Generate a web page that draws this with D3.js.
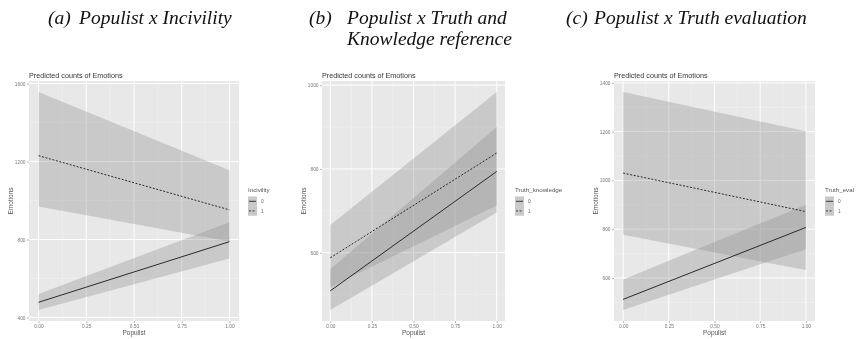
<!DOCTYPE html>
<html>
<head>
<meta charset="utf-8">
<script src="https://cdn.jsdelivr.net/npm/d3@7"></script>
<style>
  body { margin: 0; background: #fff; }
  svg { display: block; will-change: transform; }
  .caption { font-family: 'Liberation Serif', 'Times New Roman', serif; font-style: italic; font-size: 19.5px; fill: #111; }
  .gg { font-family: 'Liberation Sans', Arial, sans-serif; }
</style>
</head>
<body>
<div id="chart"></div>
<script>
// x values (Populist) and tick labels
const populist = [0, 1];
const xTicks = [0, 0.25, 0.5, 0.75, 1];

// (a) Populist x Incivility
const incivility0Fit = [478, 789];
const incivility0Lower = [438, 702];
const incivility0Upper = [520, 889];
const incivility1Fit = [1230, 952];
const incivility1Lower = [969, 790];
const incivility1Upper = [1557, 1155];
const yTicksA = [400, 800, 1200, 1600];

// (b) Populist x Truth and Knowledge reference
const truthKnow0Fit = [509, 794];
const truthKnow0Lower = [463, 696];
const truthKnow0Upper = [561, 900];
const truthKnow1Fit = [588, 838];
const truthKnow1Lower = [518, 713];
const truthKnow1Upper = [666, 984];
const yTicksB = [600, 800, 1000];

// (c) Populist x Truth evaluation
const truthEval0Fit = [512, 807];
const truthEval0Lower = [468, 718];
const truthEval0Upper = [594, 900];
const truthEval1Fit = [1030, 872];
const truthEval1Lower = [777, 632];
const truthEval1Upper = [1363, 1202];
const yTicksC = [600, 800, 1000, 1200, 1400];

const levels = ['0', '1'];

const W = 856, H = 339;
const svg = d3.select('#chart').append('svg')
  .attr('width', W)
  .attr('height', H);

// panel layout (left, right, top, bottom) + legend x
const panels = [
  { caption: ['(a)', 'Populist x Incivility'], capX: 48, capGap: 31,
    box: { l: 29, r: 239, t: 81, b: 321 }, legendX: 248, legendTitle: 'Incivility',
    yTicks: yTicksA,
    series: [
      { fit: incivility0Fit, lo: incivility0Lower, hi: incivility0Upper },
      { fit: incivility1Fit, lo: incivility1Lower, hi: incivility1Upper }
    ] },
  { caption: ['(b)', 'Populist x Truth and', 'Knowledge reference'], capX: 309, capGap: 38,
    box: { l: 322, r: 505, t: 81, b: 321 }, legendX: 515, legendTitle: 'Truth_knowledge',
    yTicks: yTicksB,
    series: [
      { fit: truthKnow0Fit, lo: truthKnow0Lower, hi: truthKnow0Upper },
      { fit: truthKnow1Fit, lo: truthKnow1Lower, hi: truthKnow1Upper }
    ] },
  { caption: ['(c)', 'Populist x Truth evaluation'], capX: 566, capGap: 28,
    box: { l: 614, r: 815, t: 81, b: 321 }, legendX: 825, legendTitle: 'Truth_eval',
    yTicks: yTicksC,
    series: [
      { fit: truthEval0Fit, lo: truthEval0Lower, hi: truthEval0Upper },
      { fit: truthEval1Fit, lo: truthEval1Lower, hi: truthEval1Upper }
    ] }
];

const panelBg = '#e8e8e8';
const ribbonFill = '#8c8c8c';
const ribbonAlpha = 0.33;
const dashes = [null, '2,1.6'];

panels.forEach(function (p) {
  // caption above the panel
  const cap = svg.append('g').attr('class', 'caption');
  cap.append('text').attr('x', p.capX).attr('y', 24).text(p.caption[0]);
  cap.append('text').attr('x', p.capX + p.capGap).attr('y', 24).text(p.caption[1]);
  if (p.caption[2]) {
    cap.append('text').attr('x', p.capX + p.capGap).attr('y', 45).text(p.caption[2]);
  }

  const b = p.box;
  const g = svg.append('g').attr('class', 'gg');

  // ggplot style: 5% expansion on both axes
  const allVals = d3.merge(p.series.map(function (s) { return s.lo.concat(s.hi, s.fit); }));
  const ext = d3.extent(allVals);
  const padY = (ext[1] - ext[0]) * 0.05;
  const y = d3.scaleLinear().domain([ext[0] - padY, ext[1] + padY]).range([b.b, b.t]);
  const x = d3.scaleLinear().domain([-0.05, 1.05]).range([b.l, b.r]);

  // panel background
  g.append('rect')
    .attr('x', b.l).attr('y', b.t)
    .attr('width', b.r - b.l).attr('height', b.b - b.t)
    .attr('fill', panelBg);

  // minor grid
  const step = p.yTicks[1] - p.yTicks[0];
  const yMinor = [];
  for (let v = p.yTicks[0] - step / 2; v <= y.domain()[1]; v += step) {
    if (v >= y.domain()[0]) yMinor.push(v);
  }
  const xMinor = [0.125, 0.375, 0.625, 0.875];
  g.selectAll('.yminor').data(yMinor).enter().append('line')
    .attr('x1', b.l).attr('x2', b.r)
    .attr('y1', function (d) { return y(d); }).attr('y2', function (d) { return y(d); })
    .attr('stroke', '#f3f3f3').attr('stroke-width', 0.5);
  g.selectAll('.xminor').data(xMinor).enter().append('line')
    .attr('y1', b.t).attr('y2', b.b)
    .attr('x1', function (d) { return x(d); }).attr('x2', function (d) { return x(d); })
    .attr('stroke', '#f3f3f3').attr('stroke-width', 0.5);

  // major grid
  g.selectAll('.ymajor').data(p.yTicks).enter().append('line')
    .attr('x1', b.l).attr('x2', b.r)
    .attr('y1', function (d) { return y(d); }).attr('y2', function (d) { return y(d); })
    .attr('stroke', '#fff').attr('stroke-width', 1);
  g.selectAll('.xmajor').data(xTicks).enter().append('line')
    .attr('y1', b.t).attr('y2', b.b)
    .attr('x1', function (d) { return x(d); }).attr('x2', function (d) { return x(d); })
    .attr('stroke', '#fff').attr('stroke-width', 1);

  // ribbons
  p.series.forEach(function (s) {
    const pts = populist.map(function (xv, i) { return { x: xv, lo: s.lo[i], hi: s.hi[i] }; });
    g.append('path')
      .datum(pts)
      .attr('d', d3.area()
        .x(function (d) { return x(d.x); })
        .y0(function (d) { return y(d.lo); })
        .y1(function (d) { return y(d.hi); }))
      .attr('fill', ribbonFill)
      .attr('fill-opacity', ribbonAlpha);
  });

  // fitted lines
  p.series.forEach(function (s, i) {
    const pts = populist.map(function (xv, j) { return { x: xv, v: s.fit[j] }; });
    g.append('path')
      .datum(pts)
      .attr('d', d3.line()
        .x(function (d) { return x(d.x); })
        .y(function (d) { return y(d.v); }))
      .attr('fill', 'none')
      .attr('stroke', '#2a2a2a')
      .attr('stroke-width', 1)
      .attr('stroke-dasharray', dashes[i]);
  });

  // axes
  const yAxis = g.append('g')
    .attr('transform', 'translate(' + b.l + ',0)')
    .call(d3.axisLeft(y).tickValues(p.yTicks).tickSize(2).tickPadding(1.5).tickFormat(d3.format('d')));
  const xAxis = g.append('g')
    .attr('transform', 'translate(0,' + b.b + ')')
    .call(d3.axisBottom(x).tickValues(xTicks).tickSize(2).tickPadding(1.5).tickFormat(d3.format('.2f')));
  [yAxis, xAxis].forEach(function (ax) {
    ax.select('.domain').remove();
    ax.selectAll('.tick line').attr('stroke', '#888').attr('stroke-width', 0.6);
    ax.selectAll('.tick text')
      .attr('fill', '#777')
      .style('font-size', '4.8px')
      .style('font-family', "'Liberation Sans', Arial, sans-serif");
  });

  // axis titles
  g.append('text')
    .attr('x', (b.l + b.r) / 2).attr('y', 335)
    .attr('text-anchor', 'middle')
    .attr('fill', '#555')
    .style('font-size', '6.5px')
    .text('Populist');
  g.append('text')
    .attr('transform', 'translate(' + (b.l - 16.5) + ',' + ((b.t + b.b) / 2) + ') rotate(-90)')
    .attr('text-anchor', 'middle')
    .attr('fill', '#555')
    .style('font-size', '6.5px')
    .text('Emotions');

  // plot title
  g.append('text')
    .attr('x', b.l).attr('y', 77.5)
    .attr('fill', '#333')
    .style('font-size', '7.2px')
    .text('Predicted counts of Emotions');

  // legend
  const lg = g.append('g').attr('transform', 'translate(' + p.legendX + ',0)');
  lg.append('text')
    .attr('x', 0).attr('y', 192)
    .attr('fill', '#555')
    .style('font-size', '6.2px')
    .text(p.legendTitle);
  levels.forEach(function (lv, i) {
    const ky = 196.5 + i * 9.6;
    lg.append('rect')
      .attr('x', 0).attr('y', ky).attr('width', 9).attr('height', 9.6)
      .attr('fill', panelBg);
    lg.append('rect')
      .attr('x', 0).attr('y', ky).attr('width', 9).attr('height', 9.6)
      .attr('fill', ribbonFill).attr('fill-opacity', ribbonAlpha);
    lg.append('line')
      .attr('x1', 1).attr('x2', 8)
      .attr('y1', ky + 4.8).attr('y2', ky + 4.8)
      .attr('stroke', '#2a2a2a').attr('stroke-width', 0.9)
      .attr('stroke-dasharray', dashes[i]);
    lg.append('text')
      .attr('x', 13).attr('y', ky + 6.6)
      .attr('fill', '#666')
      .style('font-size', '4.8px')
      .text(lv);
  });
});
</script>
</body>
</html>
